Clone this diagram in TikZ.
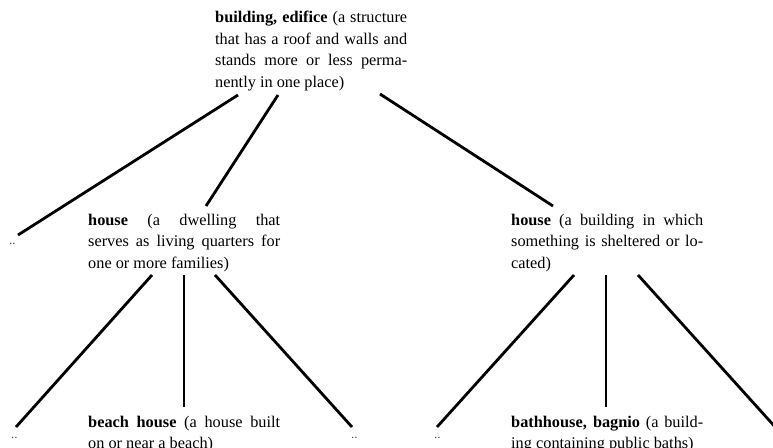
\documentclass[tikz,border=0pt]{standalone}
\usepackage{fontspec}
\setmainfont{Liberation Serif}
\usetikzlibrary{calc}
\newcommand{\jline}[1]{\makebox[192pt][s]{#1}}
\newcommand{\lastline}[1]{\makebox[192pt][l]{#1}}
\tikzset{
  gloss/.style={anchor=base west, inner sep=0pt, font=\fontsize{16.3}{21.5}\selectfont},
  dotsty/.style={anchor=base west, inner sep=0pt, font=\fontsize{13}{13}\selectfont, text=black!70},
  edge/.style={line width=2.8pt}
}
\begin{document}
\begin{tikzpicture}[x=1pt,y=-1pt]
\useasboundingbox (0,0) rectangle (773,447);
\node[gloss] (root) at (215,23) {\parbox[t]{192pt}{%
\jline{\textbf{building, edifice} (a structure}\\
\jline{that has a roof and walls and}\\
\jline{stands more or less perma-}\\
\lastline{nently in one place)}}};
\node[gloss] (lh) at (88,225) {\parbox[t]{192pt}{%
\jline{\textbf{house} (a dwelling that}\\
\jline{serves as living quarters for}\\
\lastline{one or more families)}}};
\node[gloss] (rh) at (511,225) {\parbox[t]{192pt}{%
\jline{\textbf{house} (a building in which}\\
\jline{something is sheltered or lo-}\\
\lastline{cated)}}};
\node[gloss] (bh) at (88,427) {\parbox[t]{192pt}{%
\jline{\textbf{beach house} (a house built}\\
\lastline{on or near a beach)}}};
\node[gloss] (bath) at (511,427) {\parbox[t]{192pt}{%
\jline{\textbf{bathhouse, bagnio} (a build-}\\
\lastline{ing containing public baths)}}};
\node[dotsty] (d1) at (9,244) {..};
\node[dotsty] (d2) at (11,438) {..};
\node[dotsty] (d3) at (351,438) {..};
\node[dotsty] (d4) at (434,438) {..};
\coordinate (d5) at (777,429);
% root children
\draw[edge] ($(root.base west)+(23,72)$) -- ($(d1.base west)+(9,-9)$);
\draw[edge] ($(root.base west)+(63,72)$) -- ($(lh.base west)+(118,-19)$);
\draw[edge] ($(root.base west)+(165,71)$) -- ($(rh.base west)+(42,-19)$);
% left house children
\draw[edge] ($(lh.base west)+(64,50)$) -- ($(d2.base west)+(5,-11)$);
\draw[edge] ($(lh.base west)+(96,50)$) -- ($(bh.base west)+(96,-20)$);
\draw[edge] ($(lh.base west)+(127,50)$) -- ($(d3.base west)+(1,-11)$);
% right house children
\draw[edge] ($(rh.base west)+(63,50)$) -- ($(d4.base west)+(3,-11)$);
\draw[edge] ($(rh.base west)+(95,50)$) -- ($(bath.base west)+(95,-20)$);
\draw[edge] ($(rh.base west)+(127,50)$) -- (d5);
\end{tikzpicture}
\end{document}
